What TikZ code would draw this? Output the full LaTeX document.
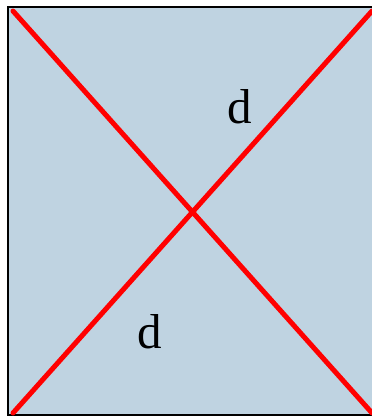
\documentclass[tikz,border=0pt]{standalone}
\usepackage{fontspec}
\setmainfont{Liberation Serif}
\usetikzlibrary{positioning}
\definecolor{boxblue}{HTML}{BFD3E1}
\tikzstyle{diag} = [draw=red, line width=5pt, line cap=round]
\tikzstyle{lbl} = [font=\fontsize{49}{55}\selectfont, inner sep=0pt]

\begin{document}
\begin{tikzpicture}[x=1pt, y=-1pt]
    \useasboundingbox (0,0) rectangle (372,418);
    % square
    \begin{scope}
    \clip (0,0) rectangle (372,418);
    \draw [fill=boxblue, line width=2pt] (8,7) rectangle (380,415);
    \end{scope}
    % corners
    \coordinate (tl) at (13,11);
    \coordinate (br) at (372,413);
    \coordinate (bl) at (13,413);
    \coordinate (tr) at (372,11);
    % diagonals
    \path [diag] (tl) -- (br);
    \path [diag] (bl) -- (tr);
    % labels
    \node [lbl] (d1) at (240,107) {d};
    \node [lbl] (d2) at (150,332) {d};
\end{tikzpicture}
\end{document}
